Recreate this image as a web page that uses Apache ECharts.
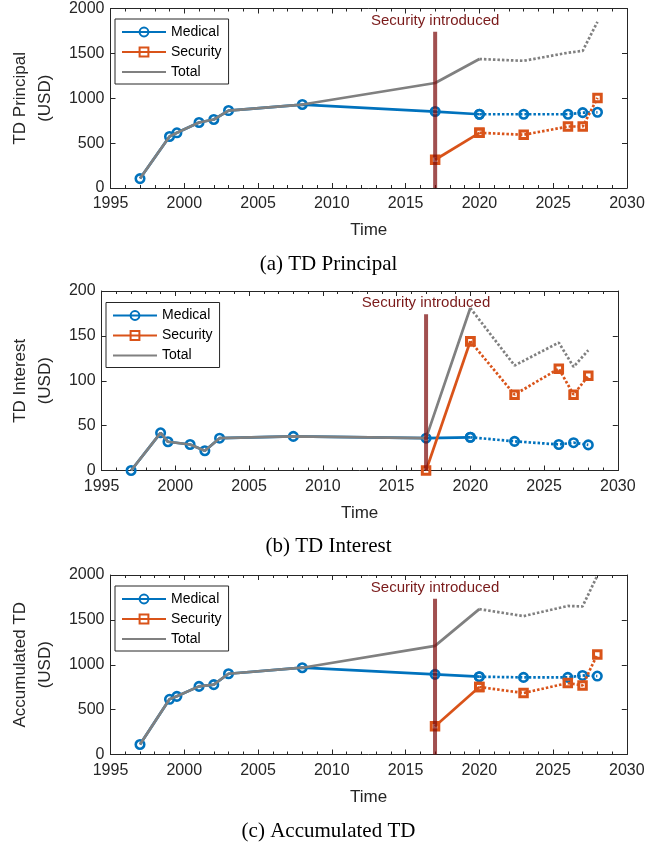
<!DOCTYPE html>
<html>
<head>
<meta charset="utf-8">
<script src="https://cdn.jsdelivr.net/npm/echarts@6/dist/echarts.min.js"></script>
<style>
html,body{margin:0;padding:0;background:#fff;}
#chart{width:657px;height:843px;}
</style>
</head>
<body>
<div id="chart"></div>
<script>
// ---- data ----
const years = [1997, 1999, 1999.5, 2001, 2002, 2003, 2008, 2017, 2020, 2023, 2026, 2027, 2028];
const securityYears = [2017, 2020, 2023, 2026, 2027, 2028];
const projectionStartYear = 2020;
const introYear = 2017;
const introLabel = 'Security introduced';
const seriesNames = ['Medical', 'Security', 'Total'];
const xTickMin = 1995, xTickMax = 2030, xTickStep = 5;

const principalMedical  = [105, 574, 615, 730, 763, 863, 930, 852, 822, 822, 822, 840, 844];
const principalSecurity = [315, 615, 593, 685, 685, 1004];
const principalTotal    = [105, 574, 615, 730, 763, 863, 930, 1170, 1437, 1417, 1507, 1528, 1852];

const interestMedical  = [0, 42, 32, 29, 22, 36, 38, 36, 37, 32.5, 29, 31, 28.5];
const interestSecurity = [0, 144, 84.5, 113.5, 84.5, 105.5];
const interestTotal    = [0, 42, 32, 29, 22, 36, 38, 36, 181, 117, 142.5, 115.5, 134];

const accumMedical  = [111, 615, 648, 759, 778, 900, 967, 893, 867, 859, 859, 881, 874];
const accumSecurity = [315, 752, 685, 796, 770, 1115];
const accumTotal    = [111, 615, 648, 759, 778, 900, 967, 1210, 1620, 1542, 1655, 1650, 1992];

const yAxisNames = ['TD Principal\n(USD)', 'TD Interest\n(USD)', 'Accumulated TD\n(USD)'];
const yMaxes = [2000, 200, 2000];
const yIntervals = [500, 50, 500];
const introLineTops = [1740, 174, 1735];
const captions = ['(a) TD Principal', '(b) TD Interest', '(c) Accumulated TD'];
const xAxisName = 'Time';

// ---- layout / style ----
const FONT = "'Liberation Sans', Arial, Helvetica, sans-serif";
const SERIF = "'Liberation Serif', 'Times New Roman', serif";
const AX = '#262626';
const BLUE = '#0072BD', ORANGE = '#D95319', GREY = '#808080';
const LW = 2.7;
const layout = [
  {left: 102.5, top: 8.5, nameGap: 44, legendLeft: 115, legendTop: 19, capTop: 254},
  {left: 93.3, top: 291, nameGap: 35, legendLeft: 106, legendTop: 302.5, capTop: 536},
  {left: 102.3, top: 575, nameGap: 43, legendLeft: 115, legendTop: 586, capTop: 821}
];
const gridW = 524.5, gridH = 179.5;
const DOT = [2.5, 2];

const panelData = [
  [principalMedical, principalSecurity, principalTotal],
  [interestMedical, interestSecurity, interestTotal],
  [accumMedical, accumSecurity, accumTotal]
];

function pairs(xs, ys) { return xs.map((x, i) => [x, ys[i]]); }
function splitAt(xs, ys, splitX) {
  const all = pairs(xs, ys);
  const k = xs.indexOf(splitX);
  return [all.slice(0, k + 1), all.slice(k)];
}
const plain = v => String(v);

const grids = [], xAxes = [], yAxes = [], series = [], legends = [], titles = [];

layout.forEach((L, i) => {
  grids.push({left: L.left, top: L.top, width: gridW, height: gridH, containLabel: false});
  const tickStyle = {show: true, inside: true, length: 5, lineStyle: {color: AX, width: 1}};
  const minor = {show: true, splitNumber: 5, length: 3, lineStyle: {color: AX, width: 1}};
  const base = {
    type: 'value', gridIndex: i, min: xTickMin, max: xTickMax, interval: xTickStep,
    axisLine: {show: true, onZero: false, lineStyle: {color: AX, width: 1}},
    splitLine: {show: false}, minorSplitLine: {show: false}
  };
  xAxes.push(Object.assign({}, base, {
    position: 'bottom',
    axisTick: tickStyle,
    minorTick: minor,
    axisLabel: {fontSize: 16, color: AX, fontFamily: FONT, margin: 8, formatter: plain},
    name: xAxisName, nameLocation: 'middle', nameGap: 34,
    nameTextStyle: {fontSize: 17, color: AX, fontFamily: FONT}
  }));
  xAxes.push(Object.assign({}, base, {
    position: 'top',
    axisTick: tickStyle,
    minorTick: minor,
    axisLabel: {show: false}
  }));
  const ybase = {
    type: 'value', gridIndex: i, min: 0, max: yMaxes[i], interval: yIntervals[i],
    axisLine: {show: true, onZero: false, lineStyle: {color: AX, width: 1}},
    splitLine: {show: false},
    axisTick: tickStyle
  };
  yAxes.push(Object.assign({}, ybase, {
    position: 'left',
    axisLabel: {fontSize: 16, color: AX, fontFamily: FONT, margin: 6, formatter: plain},
    name: yAxisNames[i], nameLocation: 'middle', nameRotate: 90, nameGap: L.nameGap,
    nameTextStyle: {fontSize: 17, color: AX, fontFamily: FONT, lineHeight: 25, align: 'center'}
  }));
  yAxes.push(Object.assign({}, ybase, {position: 'right', axisLabel: {show: false}}));

  const [med, sec, tot] = panelData[i];
  const xi = 2 * i, yi = 2 * i;
  const [medSolid, medDot] = splitAt(years, med, projectionStartYear);
  const [secSolid, secDot] = splitAt(securityYears, sec, projectionStartYear);
  const [totSolid, totDot] = splitAt(years, tot, projectionStartYear);

  const medStyle = {
    symbol: 'circle', symbolSize: 8.5, showSymbol: true,
    itemStyle: {color: 'rgba(255,255,255,0)', borderColor: BLUE, borderWidth: 2.6}
  };
  const secStyle = {
    symbol: 'rect', symbolSize: 7.5, showSymbol: true,
    itemStyle: {color: 'rgba(255,255,255,0)', borderColor: ORANGE, borderWidth: 3}
  };
  series.push(Object.assign({type: 'line', name: 'Medical', xAxisIndex: xi, yAxisIndex: yi, z: 2,
    data: medSolid, lineStyle: {color: BLUE, width: LW}}, medStyle));
  series.push(Object.assign({type: 'line', name: 'Medical (proj)', xAxisIndex: xi, yAxisIndex: yi, z: 2,
    data: medDot, lineStyle: {color: BLUE, width: LW, type: DOT}}, medStyle));
  series.push(Object.assign({type: 'line', name: 'Security', xAxisIndex: xi, yAxisIndex: yi, z: 3,
    data: secSolid, lineStyle: {color: ORANGE, width: LW}}, secStyle));
  series.push(Object.assign({type: 'line', name: 'Security (proj)', xAxisIndex: xi, yAxisIndex: yi, z: 3,
    data: secDot, lineStyle: {color: ORANGE, width: LW, type: DOT}}, secStyle));
  series.push({type: 'line', name: 'Total', xAxisIndex: xi, yAxisIndex: yi, z: 4,
    data: totSolid, symbol: 'none', itemStyle: {color: GREY}, lineStyle: {color: GREY, width: LW}});
  series.push({type: 'line', name: 'Total (proj)', xAxisIndex: xi, yAxisIndex: yi, z: 4,
    data: totDot, symbol: 'none', itemStyle: {color: GREY}, lineStyle: {color: GREY, width: LW, type: DOT}});
  series.push({type: 'line', name: 'intro', xAxisIndex: xi, yAxisIndex: yi, z: 5,
    symbol: 'circle', symbolSize: 1, showSymbol: true,
    itemStyle: {color: 'rgba(0,0,0,0)'},
    lineStyle: {color: 'rgba(125,12,12,0.72)', width: 4},
    data: [
      {value: [introYear, 0]},
      {value: [introYear, introLineTops[i]],
       label: {show: true, position: 'top', distance: 3, formatter: introLabel,
               fontSize: 15, fontFamily: FONT, color: '#7a1a1a'}}
    ]});

  legends.push({
    orient: 'vertical', left: L.legendLeft, top: L.legendTop,
    itemWidth: 44, itemHeight: 11, itemGap: 6, padding: [6, 7, 5, 6],
    borderColor: AX, borderWidth: 1, backgroundColor: '#fff',
    textStyle: {fontSize: 14, fontFamily: FONT, color: '#000'},
    selectedMode: false,
    data: [
      {name: seriesNames[0]},
      {name: seriesNames[1]},
      {name: seriesNames[2], itemStyle: {opacity: 0}}
    ]
  });
  titles.push({
    text: captions[i], left: 'center', top: L.capTop, padding: 0,
    textStyle: {fontSize: 21, fontFamily: SERIF, fontWeight: 'normal', color: '#000'}
  });
});

const chart = echarts.init(document.getElementById('chart'), null, {renderer: 'canvas'});
chart.setOption({
  animation: false,
  backgroundColor: '#fff',
  title: titles,
  grid: grids,
  xAxis: xAxes,
  yAxis: yAxes,
  legend: legends,
  series: series
});
</script>
</body>
</html>
